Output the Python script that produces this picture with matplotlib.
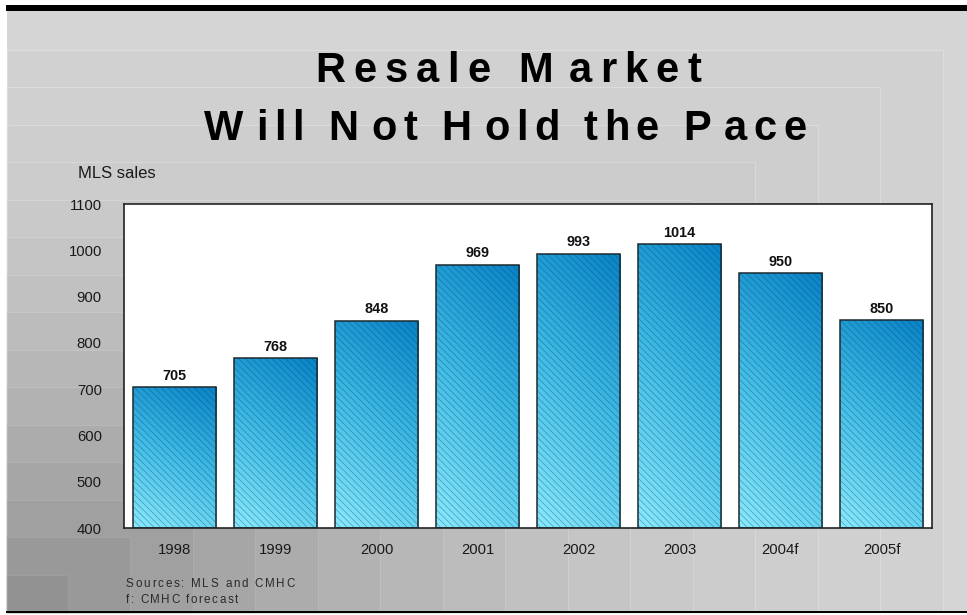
import numpy as np
import matplotlib
matplotlib.use("Agg")
import matplotlib.pyplot as plt
from matplotlib.colors import LinearSegmentedColormap
from matplotlib.patches import Rectangle

# ---------------- data ----------------
categories = ["1998", "1999", "2000", "2001", "2002", "2003", "2004f", "2005f"]
mls_sales = [705, 768, 848, 969, 993, 1014, 950, 850]
y_ticks = [400, 500, 600, 700, 800, 900, 1000, 1100]
title_line1 = "Resale Market"
title_line2 = "Will Not Hold the Pace"
y_label = "MLS sales"
source_line1 = "Sources: MLS and CMHC"
source_line2 = "f: CMHC forecast"

plt.rcParams["font.family"] = ["Liberation Sans", "DejaVu Sans"]
plt.rcParams["hatch.linewidth"] = 0.5

W, H = 967, 615
fig = plt.figure(figsize=(W / 100, H / 100), dpi=100)
fig.patch.set_facecolor("white")

# background axes in pixel coordinates
bg = fig.add_axes([0, 0, 1, 1], zorder=-5)
bg.set_xlim(0, W)
bg.set_ylim(H, 0)
bg.axis("off")

# outer light panel
bg.add_patch(Rectangle((7, 11), W - 7, 601, facecolor="#d5d5d5", edgecolor="none"))
# nested rectangles anchored bottom-left (darker towards bottom-left)
x0, ybot = 5, 612
full_w, full_h = 938, 562
n_steps = 15
for k in range(n_steps, 0, -1):
    f = k / n_steps
    g = int(round(209 - 70 * (1 - f) ** 1.6))
    col = (g / 255, g / 255, g / 255)
    ecol = (min(g + 12, 255) / 255,) * 3
    bg.add_patch(Rectangle((x0 + 2, ybot - full_h * f), full_w * f - 2, full_h * f,
                           facecolor=col, edgecolor=ecol, lw=0.8))
# black top bar and bottom line
bg.add_patch(Rectangle((6, 5), W - 6, 6, facecolor="black", edgecolor="none"))
bg.add_patch(Rectangle((6, 611), W - 6, 2, facecolor="black", edgecolor="none"))

renderer = fig.canvas.get_renderer()


def spaced_text(text, left, baseline, target_width, extra_after=(), extra=0, **kw):
    """Draw text character by character with tracking to fill target width."""
    widths = []
    for ch in text:
        if ch == " ":
            t1 = bg.text(0, 0, "a a", **kw)
            t2 = bg.text(0, 0, "aa", **kw)
            w = t1.get_window_extent(renderer).width - t2.get_window_extent(renderer).width
            t1.remove(); t2.remove()
        else:
            t = bg.text(0, 0, ch, **kw)
            w = t.get_window_extent(renderer).width
            t.remove()
        widths.append(w)
    n_extra = sum(1 for ch in text[:-1] if ch in extra_after)
    natural = sum(widths) + n_extra * extra
    track = (target_width - natural) / max(len(text) - 1, 1)
    x = left
    for i, ch in enumerate(text):
        if ch != " ":
            bg.text(x, baseline, ch, ha="left", va="baseline", **kw)
        x += widths[i] + track
        if ch in extra_after:
            x += extra


title_kw = dict(fontsize=30, fontweight="bold", color="black")
spaced_text(title_line1, 315, 82, 386, extra_after="WNHPM", extra=7, **title_kw)
spaced_text(title_line2, 204, 140, 602, extra_after="WNHPM", extra=7, **title_kw)

src_kw = dict(fontsize=8.4, color="#2a2a2a")
spaced_text(source_line1, 126, 587, 169, **src_kw)
spaced_text(source_line2, 126, 603, 112, **src_kw)

bg.text(78, 178, y_label, ha="left", va="baseline", fontsize=12, color="#1a1a1a")

# ---------------- main chart ----------------
L, R, T, B = 124, 932, 204, 528
ax = fig.add_axes([L / W, (H - B) / H, (R - L) / W, (B - T) / H])
ax.set_facecolor("white")

xpos = np.arange(len(categories))
bar_w = 0.83
bars = ax.bar(xpos, [v - 400 for v in mls_sales], bottom=400, width=bar_w,
              color="none", edgecolor="none", zorder=2)

cmap = LinearSegmentedColormap.from_list("blu", ["#88e9fc", "#40bce6", "#0884c8"])
ny, nx = 80, 30
yy, xx = np.mgrid[0:ny, 0:nx]
grad = 0.78 * yy / (ny - 1) + 0.22 * xx / (nx - 1)
for p in bars.patches:
    bx, by, bw, bh = p.get_x(), p.get_y(), p.get_width(), p.get_height()
    im = ax.imshow(grad, extent=[bx, bx + bw, by, by + bh], origin="lower",
                   cmap=cmap, aspect="auto", zorder=2, interpolation="bilinear")
    im.set_clip_path(p)

# hatch overlay
ax.bar(xpos, [v - 400 for v in mls_sales], bottom=400, width=bar_w,
       facecolor="none", edgecolor=(0.05, 0.22, 0.35, 0.42), hatch="\\\\\\\\\\",
       lw=0, zorder=3)
# outline
ax.bar(xpos, [v - 400 for v in mls_sales], bottom=400, width=bar_w,
       facecolor="none", edgecolor="#1b2a30", lw=1.1, zorder=4)

for x, v in zip(xpos, mls_sales):
    ax.annotate(f"{v}", (x, v), xytext=(0, 3), textcoords="offset points",
                ha="center", va="bottom", fontsize=10.4, fontweight="bold",
                color="#111111", zorder=5)

ax.set_xlim(-0.5, len(categories) - 0.5)
ax.set_ylim(400, 1100)
ax.set_yticks(y_ticks)
ax.set_xticks(xpos)
ax.set_xticklabels(categories)
ax.tick_params(axis="both", length=0, labelsize=10.7, colors="#1a1a1a")
ax.tick_params(axis="y", pad=16)
ax.tick_params(axis="x", pad=11)
for s in ax.spines.values():
    s.set_color("#222222")
    s.set_linewidth(1.2)

fig.savefig("out.png", dpi=100, facecolor="white")
